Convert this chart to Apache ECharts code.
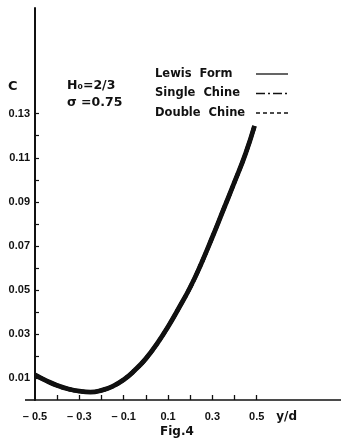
<!DOCTYPE html>
<html>
<head>
<meta charset="utf-8">
<script src="https://cdn.jsdelivr.net/npm/echarts@6/dist/echarts.min.js"></script>
<style>
  html, body { margin: 0; padding: 0; background: #fff; }
  #chart { width: 341px; height: 448px; }
</style>
</head>
<body>
<div id="chart"></div>
<script>
// Horizontal position y/d of the section
const xValues = [-0.5, -0.45, -0.4, -0.35, -0.3, -0.25, -0.2, -0.15, -0.1, -0.05,
                 0, 0.05, 0.1, 0.15, 0.2, 0.25, 0.3, 0.35, 0.4, 0.45, 0.49];
// Coefficient C; the three hull forms coincide at this scale
const lewisForm   = [0.0114, 0.0088, 0.0066, 0.0050, 0.0040, 0.0036, 0.0044, 0.0062, 0.0092, 0.0135,
                     0.0188, 0.0255, 0.0333, 0.0420, 0.0512, 0.0620, 0.0740, 0.0865, 0.0990, 0.1120, 0.1245];
const singleChine = [0.0114, 0.0088, 0.0066, 0.0050, 0.0040, 0.0036, 0.0044, 0.0062, 0.0092, 0.0135,
                     0.0188, 0.0255, 0.0333, 0.0420, 0.0512, 0.0620, 0.0740, 0.0865, 0.0990, 0.1120, 0.1245];
const doubleChine = [0.0114, 0.0088, 0.0066, 0.0050, 0.0040, 0.0036, 0.0044, 0.0062, 0.0092, 0.0135,
                     0.0188, 0.0255, 0.0333, 0.0420, 0.0512, 0.0620, 0.0740, 0.0865, 0.0990, 0.1120, 0.1245];

const xTickValues  = [-0.4, -0.3, -0.2, -0.1, 0, 0.1, 0.2, 0.3, 0.4, 0.5];
const xLabelValues = [-0.5, -0.3, -0.1, 0.1, 0.3, 0.5];
const yTickValues  = [0.01, 0.02, 0.03, 0.04, 0.05, 0.06, 0.07, 0.08, 0.09, 0.10, 0.11, 0.12, 0.13];
const yLabelValues = [0.01, 0.03, 0.05, 0.07, 0.09, 0.11, 0.13];

const INK = '#111';
const FONT = 'Liberation Sans';
const TEXT_FONT = 'DejaVu Sans';

const pairs = arr => xValues.map((x, i) => [x, arr[i]]);

const chart = echarts.init(document.getElementById('chart'), null, { renderer: 'canvas' });

const lineSeries = (name, data, width, type, z) => ({
  name, type: 'line', data: pairs(data),
  smooth: 0.5, showSymbol: false, symbol: 'none',
  color: INK,
  itemStyle: { color: INK },
  lineStyle: { color: INK, width, type }, z
});

const option = {
  backgroundColor: '#fff',
  animation: false,
  color: [INK],
  title: {
    text: 'Fig.4',
    left: 155, top: 421,
    textStyle: { fontFamily: TEXT_FONT, fontWeight: 'bold', fontSize: 12, color: INK }
  },
  legend: {
    orient: 'vertical',
    left: 150, top: 63,
    align: 'right',
    itemWidth: 32, itemHeight: 14, itemGap: 7.5,
    itemStyle: { opacity: 0 },
    lineStyle: { width: 1.3, color: INK },
    formatter: name => '{t|' + name + '}',
    textStyle: {
      fontFamily: TEXT_FONT, fontWeight: 'bold', fontSize: 11.5, color: INK,
      rich: { t: { width: 96, align: 'left', fontFamily: TEXT_FONT, fontWeight: 'bold', fontSize: 11.5, color: INK } }
    },
    data: ['Lewis  Form', 'Single  Chine', 'Double  Chine']
  },
  grid: { left: 35, right: 0, top: 8, bottom: 48 },
  xAxis: {
    type: 'value',
    min: -0.5, max: 0.88, interval: 0.1,
    axisLine: { onZero: true, lineStyle: { color: INK, width: 1.6 } },
    axisTick: { customValues: xTickValues, inside: true, length: 5, lineStyle: { color: INK, width: 1.3 } },
    axisLabel: {
      customValues: xLabelValues,
      margin: 11,
      fontFamily: FONT, fontWeight: 'bold', fontSize: 11, color: INK,
      formatter: v => (v < 0 ? '– ' + Math.abs(v).toFixed(1) : v.toFixed(1))
    },
    splitLine: { show: false }
  },
  yAxis: {
    type: 'value',
    min: 0, max: 0.178, interval: 0.01,
    axisLine: { onZero: false, lineStyle: { color: INK, width: 2 } },
    axisTick: { customValues: yTickValues, inside: true, length: 4, lineStyle: { color: INK, width: 1.2 } },
    axisLabel: {
      customValues: yLabelValues,
      margin: 5,
      fontFamily: FONT, fontWeight: 'bold', fontSize: 11, color: INK,
      formatter: v => v.toFixed(2)
    },
    splitLine: { show: false }
  },
  series: [
    lineSeries('Lewis  Form', lewisForm, 4.8, 'solid', 3),
    lineSeries('Single  Chine', singleChine, 4, [9, 3, 2, 3], 4),
    lineSeries('Double  Chine', doubleChine, 4, [4, 3], 5)
  ]
};

chart.setOption(option);

// Axis annotations placed from the chart's own scales
const origin = chart.convertToPixel({ gridIndex: 0 }, [-0.5, 0]);
const namePos = chart.convertToPixel({ gridIndex: 0 }, [0.635, 0]);
const txt = (text, x, y, size, align) => ({
  type: 'text', x, y,
  style: { text, fill: INK, font: `bold ${size}px "${TEXT_FONT}"`, textAlign: align || 'left', textVerticalAlign: 'middle' }
});
chart.setOption({
  graphic: [
    { type: 'line', shape: { x1: origin[0] - 10, y1: origin[1], x2: origin[0], y2: origin[1] },
      style: { stroke: INK, lineWidth: 1.6 } },
    txt('y/d', namePos[0], origin[1] + 17, 12, 'center'),
    txt('C', 8, 87, 13),
    txt('H₀=2/3', 67, 86, 12.5),
    txt('σ =0.75', 67, 103, 12.5)
  ]
});
</script>
</body>
</html>
